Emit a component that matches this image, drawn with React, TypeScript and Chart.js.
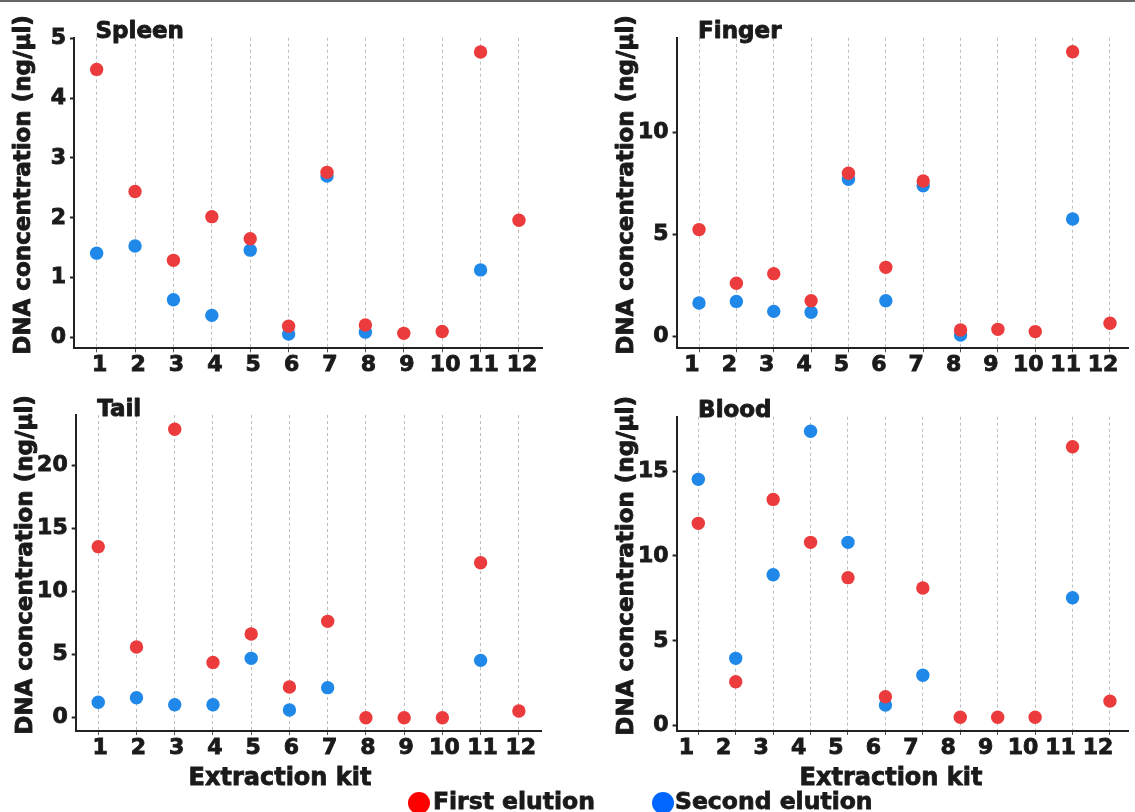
import React, { useEffect, useRef } from 'react';
import { Chart, registerables } from 'chart.js';

Chart.register(...registerables);

// ---------- data ----------
const kits = [1, 2, 3, 4, 5, 6, 7, 8, 9, 10, 11, 12];
const kitLabels = ['1', '2', '3', '4', '5', '6', '7', '8', '9', '10', '11', '12'];

const spleenFirst = [4.48, 2.44, 1.29, 2.02, 1.65, 0.19, 2.76, 0.21, 0.07, 0.1, 4.77, 1.96];
const spleenSecond = [1.41, 1.53, 0.63, 0.37, 1.46, 0.06, 2.7, 0.09, null, null, 1.13, null];
const spleenTicks = [0, 1, 2, 3, 4, 5];

const fingerFirst = [5.25, 2.62, 3.09, 1.76, 8.01, 3.4, 7.63, 0.33, 0.36, 0.25, 13.97, 0.66];
const fingerSecond = [1.65, 1.73, 1.24, 1.2, 7.72, 1.76, 7.4, 0.08, null, null, 5.77, null];
const fingerTicks = [0, 5, 10];

const tailFirst = [13.54, 5.6, 22.83, 4.38, 6.63, 2.43, 7.63, 0, 0, 0, 12.27, 0.53];
const tailSecond = [1.22, 1.58, 1.03, 1.03, 4.7, 0.61, 2.38, null, null, null, 4.54, null];
const tailTicks = [0, 5, 10, 15, 20];

const bloodFirst = [11.92, 2.59, 13.33, 10.8, 8.72, 1.71, 8.11, 0.5, 0.5, 0.5, 16.43, 1.45];
const bloodSecond = [14.51, 3.97, 8.89, 17.34, 10.8, 1.22, 2.97, null, null, null, 7.54, null];
const bloodTicks = [0, 5, 10, 15];

const seriesNames = ['First elution', 'Second elution'];
const yTitle = 'DNA concentration (ng/µl)';
const xTitle = 'Extraction kit';

// ---------- style ----------
const FONT = '"DejaVu Sans", sans-serif';
const RED = '#ec3b3d';
const BLUE = '#1f88e8';
const TEXT = '#1a1a1a';

type Panel = {
  name: string;
  first: (number | null)[];
  second: (number | null)[];
  yTicks: number[];
  yMin: number;
  yMax: number;
  xMin: number;
  xMax: number;
  left: number;
  top: number;
  width: number;
  height: number;
  padTop: number;
  padRight: number;
  yAxisW: number;
  xAxisH: number;
  labelOffset: number;
};

const panels: Panel[] = [
  { name: 'Spleen', first: spleenFirst, second: spleenSecond, yTicks: spleenTicks, yMin: -0.18, yMax: 5.01, xMin: 0.41, xMax: 12.6,
    left: 0, top: 0, width: 560, height: 390, padTop: 37.7, padRight: 18, yAxisW: 74, xAxisH: 41.7, labelOffset: 3 },
  { name: 'Finger', first: fingerFirst, second: fingerSecond, yTicks: fingerTicks, yMin: -0.57, yMax: 14.66, xMin: 0.4, xMax: 12.49,
    left: 560, top: 0, width: 575, height: 390, padTop: 37.7, padRight: 0, yAxisW: 116.6, xAxisH: 41.7, labelOffset: -7 },
  { name: 'Tail', first: tailFirst, second: tailSecond, yTicks: tailTicks, yMin: -1.05, yMax: 23.96, xMin: 0.41, xMax: 12.6,
    left: 0, top: 390, width: 560, height: 422, padTop: 25, padRight: 18.2, yAxisW: 75.7, xAxisH: 81, labelOffset: 2 },
  { name: 'Blood', first: bloodFirst, second: bloodSecond, yTicks: bloodTicks, yMin: -0.31, yMax: 18.2, xMin: 0.42, xMax: 12.49,
    left: 560, top: 390, width: 575, height: 422, padTop: 26.7, padRight: 0, yAxisW: 116.6, xAxisH: 81, labelOffset: -12 },
];

const panelTextPlugin = {
  id: 'panelText',
  afterDraw(chart: any, _args: any, opts: any) {
    const { ctx, chartArea } = chart;
    ctx.save();
    ctx.fillStyle = TEXT;
    ctx.strokeStyle = TEXT;
    ctx.lineWidth = 0.9;
    ctx.lineJoin = 'round';
    ctx.font = `bold 23px ${FONT}`;
    ctx.textAlign = 'left';
    ctx.textBaseline = 'alphabetic';
    ctx.fillText(opts.name, chartArea.left + 21.5, chartArea.top + 0.5);
    ctx.strokeText(opts.name, chartArea.left + 21.5, chartArea.top + 0.5);
    ctx.translate(chartArea.left - 50, (chartArea.top + chartArea.bottom) / 2 - 8);
    ctx.rotate(-Math.PI / 2);
    ctx.textAlign = 'center';
    ctx.textBaseline = 'middle';
    ctx.fillText(opts.yTitle, 0, 0);
    ctx.strokeText(opts.yTitle, 0, 0);
    ctx.restore();
  },
};

function toPoints(vals: (number | null)[]) {
  return kits
    .map((k, i) => ({ x: k, y: vals[i] }))
    .filter((d) => d.y !== null) as { x: number; y: number }[];
}

function PanelChart({ p }: { p: Panel }) {
  const ref = useRef<HTMLCanvasElement>(null);
  useEffect(() => {
    const tickFont = { family: FONT, weight: 'bold', size: 22 };
    const chart = new Chart(ref.current as HTMLCanvasElement, {
      type: 'scatter',
      data: {
        datasets: [
          { label: seriesNames[0], data: toPoints(p.first), backgroundColor: RED, borderWidth: 0, pointRadius: 6.7 },
          { label: seriesNames[1], data: toPoints(p.second), backgroundColor: BLUE, borderWidth: 0, pointRadius: 6.7 },
        ],
      },
      options: {
        animation: false,
        responsive: false,
        maintainAspectRatio: false,
        events: [],
        layout: { padding: { top: p.padTop, right: p.padRight, left: 0, bottom: 0 } },
        plugins: {
          legend: { display: false },
          tooltip: { enabled: false },
          panelText: { name: p.name, yTitle },
        } as any,
        scales: {
          x: {
            type: 'linear',
            min: p.xMin,
            max: p.xMax,
            afterBuildTicks: (s: any) => {
              s.ticks = kits.map((v) => ({ value: v }));
            },
            afterFit: (s: any) => {
              s.height = p.xAxisH;
            },
            ticks: {
              font: tickFont,
              color: TEXT,
              textStrokeColor: TEXT,
              textStrokeWidth: 0.9,
              padding: 0,
              labelOffset: p.labelOffset,
              autoSkip: false,
              maxRotation: 0,
              callback: (v: any) => kitLabels[kits.indexOf(Number(v))],
            },
            grid: { color: '#bdbdbd', lineWidth: 1, drawTicks: true, tickLength: 4, tickColor: '#555', tickWidth: 1 },
            border: { color: '#222', width: 2, dash: [3, 3] },
          },
          y: {
            type: 'linear',
            min: p.yMin,
            max: p.yMax,
            afterBuildTicks: (s: any) => {
              s.ticks = p.yTicks.map((v) => ({ value: v }));
            },
            afterFit: (s: any) => {
              s.width = p.yAxisW;
            },
            ticks: {
              font: tickFont,
              color: TEXT,
              textStrokeColor: TEXT,
              textStrokeWidth: 0.9,
              padding: 4,
            },
            grid: { drawOnChartArea: false, drawTicks: true, tickLength: 4, tickColor: '#222', tickWidth: 2 },
            border: { color: '#222', width: 2 },
          },
        },
      } as any,
      plugins: [panelTextPlugin],
    });
    return () => chart.destroy();
  }, [p]);
  return (
    <canvas
      ref={ref}
      width={p.width}
      height={p.height}
      style={{ position: 'absolute', left: p.left, top: p.top, width: p.width, height: p.height }}
    />
  );
}

const textStyle: React.CSSProperties = {
  position: 'absolute',
  fontFamily: FONT,
  fontWeight: 'bold',
  color: TEXT,
  whiteSpace: 'nowrap',
  WebkitTextStroke: '0.8px #1a1a1a',
};

export default function App() {
  return (
    <div style={{ position: 'absolute', left: 0, top: 0, width: 1135, height: 812, background: '#fff', overflow: 'hidden' }}>
      <div style={{ position: 'absolute', left: 0, top: 0, width: 1135, height: 2, background: '#666' }} />
      {panels.map((p) => (
        <PanelChart key={p.name} p={p} />
      ))}
      <div style={{ ...textStyle, left: 130, width: 300, top: 764.7, fontSize: 24, lineHeight: '24px', textAlign: 'center' }}>{xTitle}</div>
      <div style={{ ...textStyle, left: 741, width: 300, top: 764.7, fontSize: 24, lineHeight: '24px', textAlign: 'center' }}>{xTitle}</div>
      <div style={{ position: 'absolute', left: 408, top: 792, width: 22, height: 22, borderRadius: '50%', background: '#ff0000' }} />
      <div style={{ ...textStyle, left: 433, top: 790, fontSize: 23.5, lineHeight: '23.5px' }}>{seriesNames[0]}</div>
      <div style={{ position: 'absolute', left: 651.5, top: 792, width: 22, height: 22, borderRadius: '50%', background: '#0066ff' }} />
      <div style={{ ...textStyle, left: 675, top: 790, fontSize: 23.5, lineHeight: '23.5px' }}>{seriesNames[1]}</div>
    </div>
  );
}
